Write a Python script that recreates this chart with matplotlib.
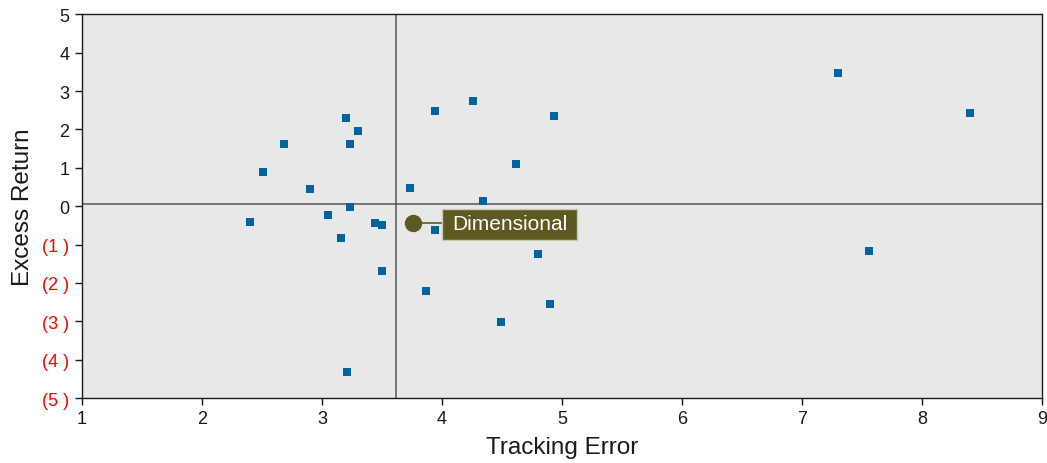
import matplotlib
matplotlib.use("Agg")
import matplotlib.pyplot as plt
from matplotlib.patches import Rectangle

plt.rcParams['font.family'] = ['Liberation Sans', 'DejaVu Sans']

# Data: peer funds (tracking error, excess return)
tracking_error = [3.20, 3.30, 2.68, 3.23, 3.94, 2.51, 2.90, 3.73, 3.23, 3.05,
                  2.40, 3.44, 3.50, 3.94, 3.16, 3.50, 3.87, 4.80, 4.90, 4.49,
                  3.21, 4.34, 4.26, 4.93, 4.62, 7.30, 8.40, 7.56]
excess_return = [2.31, 1.95, 1.63, 1.63, 2.49, 0.90, 0.435, 0.46, -0.01, -0.24,
                 -0.42, -0.45, -0.50, -0.61, -0.82, -1.68, -2.20, -1.26, -2.56, -3.03,
                 -4.31, 0.13, 2.73, 2.36, 1.11, 3.48, 2.42, -1.18]

highlight_name = "Dimensional"
highlight_x = 3.76
highlight_y = -0.45

median_x = 3.62
median_y = 0.06

x_ticks = [1, 2, 3, 4, 5, 6, 7, 8, 9]
y_ticks = [-5, -4, -3, -2, -1, 0, 1, 2, 3, 4, 5]
y_tick_labels = ['(5 )', '(4 )', '(3 )', '(2 )', '(1 )', '0', '1', '2', '3', '4', '5']

fig = plt.figure(figsize=(10.47, 4.64), dpi=100)
ax = fig.add_axes([82/1047, 1-399/464, (1042-82)/1047, (399-15.3)/464])
ax.set_facecolor('#e8e8e8')

ax.axvline(median_x, color='#555555', lw=1.1, zorder=1)
ax.axhline(median_y, color='#555555', lw=1.1, zorder=1)

ax.scatter(tracking_error, excess_return, marker='s', s=5.2**2, color='#00659e',
           linewidths=0, zorder=3)

ax.plot([highlight_x], [highlight_y], 'o', ms=11.5, color='#5c5a20', zorder=4)

ax.set_xlim(1, 9)
ax.set_ylim(-5, 5)
ax.set_xticks(x_ticks)
ax.set_yticks(y_ticks)
ax.set_yticklabels(y_tick_labels)
ax.tick_params(axis='both', direction='out', length=5, width=1, labelsize=13,
               colors='#1a1a1a', pad=4)
for lab, v in zip(ax.get_yticklabels(), y_ticks):
    lab.set_color('red' if v < 0 else '#1a1a1a')

for s in ax.spines.values():
    s.set_color('#1a1a1a')
    s.set_linewidth(1)

ax.set_xlabel('Tracking Error', fontsize=17.5, color='#1a1a1a', labelpad=6)
ax.set_ylabel('Excess Return', fontsize=17.5, color='#1a1a1a', labelpad=6)

# annotation label
txt = ax.annotate(highlight_name, xy=(highlight_x, highlight_y), xytext=(28, 0),
                  textcoords='offset points', ha='left', va='center',
                  fontsize=15, color='white', zorder=6)
fig.canvas.draw()
bb = txt.get_window_extent()
inv = ax.transData.inverted()
padx = 10
h = 31
cy = (bb.y0 + bb.y1) / 2 - 1
(x0, y0) = inv.transform((bb.x0 - padx, cy - h/2))
(x1, y1) = inv.transform((bb.x1 + padx, cy + h/2))
ax.add_patch(Rectangle((x0, y0), x1 - x0, y1 - y0, facecolor='#5c5a20',
                       edgecolor='#c9c8b4', lw=1, zorder=5))
ax.plot([highlight_x, x0], [highlight_y, highlight_y], color='#5c5a20', lw=1.2, zorder=3.5)

fig.savefig('out.png', dpi=100)
